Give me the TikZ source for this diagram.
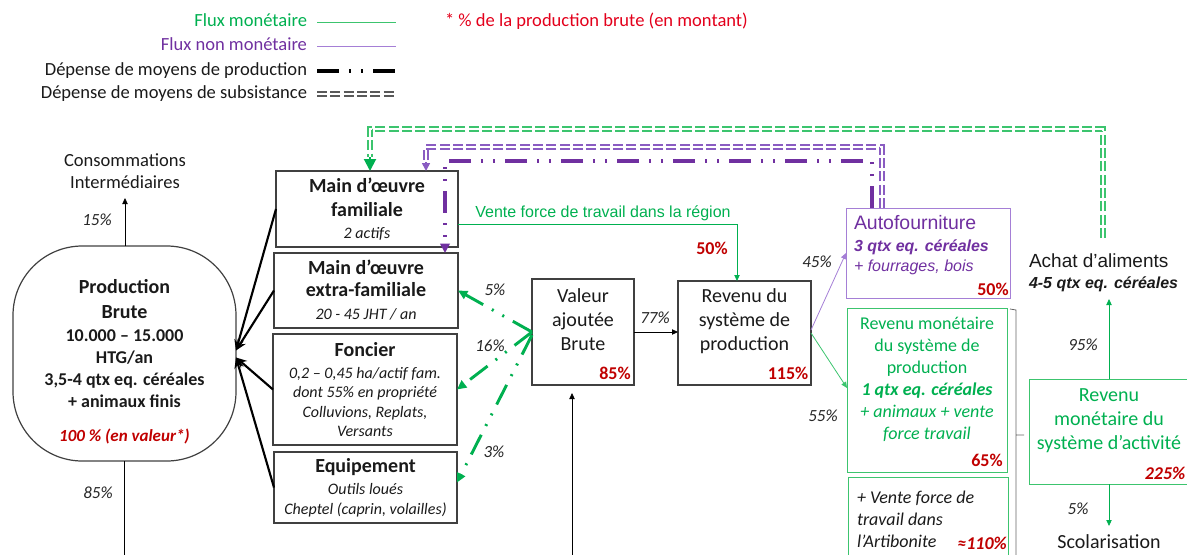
\documentclass[tikz,border=0pt]{standalone}
\usepackage{fontspec}
\setmainfont{Carlito}
\newfontfamily\arialf{Liberation Sans}
\usetikzlibrary{arrows.meta,calc}
\definecolor{gr}{HTML}{00B050}
\definecolor{lgr}{HTML}{3CC46E}
\definecolor{pu}{HTML}{7030A0}
\definecolor{mpu}{HTML}{8A5CC2}
\definecolor{lpu}{HTML}{A57FD6}
\definecolor{rd}{HTML}{C00000}
\definecolor{rdl}{HTML}{E3001B}
\definecolor{bx}{HTML}{404040}
\definecolor{tx}{HTML}{1A1A1A}
\newcommand\fA{\fontsize{15pt}{18pt}\selectfont}
\newcommand\fB{\fontsize{13.5pt}{16.5pt}\selectfont}
\newcommand\fC{\fontsize{12pt}{14.6pt}\selectfont}
\newcommand\fD{\fontsize{12.75pt}{15pt}\selectfont}
\newcommand\fL{\fontsize{13.9pt}{16.5pt}\selectfont}
\begin{document}
\begin{tikzpicture}[x=0.75pt,y=-0.75pt,
 every node/.style={inner sep=0pt,outer sep=0pt,text=tx},
 box/.style={draw=bx,line width=0.9pt,rectangle,align=center},
 cbox/.style={draw=#1,line width=0.75pt,rectangle},
 pct/.style={font=\fD\itshape,text=black!85},
 rpct/.style={font=\fB\bfseries,text=rd},
 tarr/.style={line width=0.6pt,-{Triangle[length=4.5pt,width=4pt]}},
 fat/.style={line width=1.6pt,-{Stealth[length=8pt,width=7pt]}},
 ddot/.style={line width=2.2pt,dash pattern=on 16.5pt off 7.5pt on 1.5pt off 7.5pt on 1.5pt off 7.5pt},
 dbl/.style={draw=#1,double=white,line width=1.1pt,double distance=1.6pt,dash pattern=on 7.5pt off 2.5pt},
 leg/.style={font=\fL,text height=10pt,text depth=3pt},
]
\useasboundingbox (0,0) rectangle (1187,554);

% ---------- legend ----------
\node[leg,anchor=east,text=gr] (l1) at (307,22) {Flux monétaire};
\node[leg,anchor=east,text=pu] (l2) at (307,46) {Flux non monétaire};
\node[leg,anchor=east] (l3) at (307,71) {Dépense de moyens de production};
\node[leg,anchor=east] (l4) at (307,94) {Dépense de moyens de subsistance};
\node[leg,anchor=west,text=rdl] (l5) at (445,22) {* \% de la production brute (en montant)};
\draw[lgr,line width=0.7pt] ([xshift=7.5pt]l1.east) -- ++(79,0);
\draw[lpu,line width=0.7pt] ([xshift=7.5pt]l2.east) -- ++(79,0);
\draw[black,ddot,line width=2.4pt] ([xshift=7.5pt]l3.east) -- ++(79,0);
\draw[dbl=black!65] ([xshift=7.5pt]l4.east) -- ++(79,0);

% ---------- boxes ----------
\node[draw=bx,line width=0.9pt,rounded corners=52pt,minimum width=167.25pt,minimum height=161.25pt] (prod) at (124.5,353.5) {};
\node[align=center,font=\fB\bfseries] (prodt) at (124.5,344) {{\fA Production}\\[2.25pt]{\fA Brute}\\[0.75pt]10.000 – 15.000\\HTG/an\\3,5-4 qtx eq. céréales\\+ animaux finis};
\node[font=\fD\bfseries\itshape,text=rd] (p100) at (124.5,436) {100 \% (en valeur*)};

\node[align=center,font=\fL] (conso) at (125,171) {Consommations\\Intermédiaires};

\node[box,minimum width=136.5pt,minimum height=57pt,font=\fA\bfseries] (mof) at (367,209)
  {Main d’œuvre\\familiale\\[-1.5pt]{\fC\mdseries\itshape 2 actifs}};
\node[box,minimum width=138pt,minimum height=56.25pt,font=\fA\bfseries] (moef) at (366,290.5)
  {Main d’œuvre\\[-1.5pt]extra-familiale\\[-0.75pt]{\fC\mdseries\itshape 20 - 45 JHT / an}};
\node[box,minimum width=138pt,minimum height=83.25pt,font=\fC\itshape] (fon) at (365,389.5)
  {{\fA\bfseries\upshape Foncier}\\[2pt]0,2 – 0,45 ha/actif fam.\\dont 55\% en propriété\\Colluvions, Replats,\\Versants};
\node[box,minimum width=137.25pt,minimum height=53.25pt,font=\fC\itshape] (equip) at (365.5,487.5)
  {{\fA\bfseries\upshape Equipement}\\[2.5pt]Outils loués\\Cheptel (caprin, volailles)};

\node[box,minimum width=76.5pt,minimum height=79.5pt] (val) at (583,332) {};
\node[align=center,font=\fA] (valt) at (583,319.5) {Valeur\\ajoutée\\Brute};
\node[rpct] (p85) at (615,373) {85\%};

\node[box,minimum width=99.75pt,minimum height=78pt] (revsp) at (744.5,333) {};
\node[align=center,font=\fA] (revt) at (744.5,321) {Revenu du\\système de\\production};
\node[rpct] (p115) at (788,373) {115\%};

\node[cbox=lpu,minimum width=123pt,minimum height=67.5pt] (auto) at (928,253) {};
\node[anchor=west,align=left,font=\arialf\fC,text=pu] (autot) at (854,245)
  {{\fontsize{14.6pt}{16.5pt}\selectfont Autofourniture}\\[1.9pt]{\bfseries\itshape 3 qtx eq. céréales}\\[0.4pt]{\itshape + fourrages, bois}};
\node[rpct] (p50b) at (993,289) {50\%};

\node[cbox=lgr,minimum width=120pt,minimum height=123pt] (rmsp) at (927,390) {};
\node[align=center,font=\fB,text=gr] (rmspt) at (927,379)
  {Revenu monétaire\\du système de\\production\\{\bfseries\itshape 1 qtx eq. céréales}\\{\itshape + animaux + vente}\\{\itshape force travail}};
\node[rpct] (p65) at (987,460) {65\%};

\node[cbox=lgr,minimum width=120pt,minimum height=73.5pt] (arti) at (928,526) {};
\node[anchor=west,align=left,font=\fB\itshape] (artit) at (857,519) {+ Vente force de\\travail dans\\l’Artibonite};
\node[rpct,font=\fB\bfseries\itshape] (p110) at (982,543) {≈110\%};

\node[cbox=lgr,minimum width=124.5pt,minimum height=78.75pt] (rmsa) at (1112,431.5) {};
\node[align=center,font=\fA,text=gr] (rmsat) at (1109,421) {Revenu\\monétaire du\\système d’activité};
\node[rpct,font=\fB\bfseries\itshape] (p225) at (1165,473) {225\%};

\node[anchor=west,align=left,font=\arialf\fontsize{12pt}{15.75pt}\selectfont] (achat) at (1029,273)
  {{\fontsize{14.25pt}{16pt}\selectfont Achat d’aliments}\\{\bfseries\itshape 4-5 qtx eq. céréales}};
\node[font=\fA] (scol) at (1109,542) {Scolarisation};

% ---------- connectors ----------
\draw[fat] (mof.west) -- ($(prod.east)+(0,-3)$);
\draw[fat] (moef.west) -- ($(prod.east)+(0,-3)$);
\draw[fat] (fon.west) -- ($(prod.east)+(0,4)$);
\draw[fat] (equip.west) -- ($(prod.east)+(0,4)$);

\coordinate (c15) at (125,198);
\draw[tarr] (prod.north -| c15) -- (c15);
\coordinate (c85) at (124.5,560);
\draw[line width=0.6pt] (prod.south) -- (c85);

\coordinate (vA) at (737,224);
\draw[gr,tarr] (mof.east |- vA) -- (vA) -- (revsp.north -| vA);
\node[font=\arialf\fC,text=gr] (vente) at (603,213) {Vente force de travail dans la région};
\node[rpct] (p50a) at (712,248) {50\%};

\draw[tarr] (val.east) -- (revsp.west |- val.east);
\coordinate (vb) at (572,560);
\draw[tarr,shorten >=6pt] (vb) -- (val.south -| vb);

\draw[gr,ddot,-{Triangle[length=7pt,width=6.5pt]}] (val.west) -- (moef.east);
\draw[gr,ddot,-{Triangle[length=7pt,width=6.5pt]}] (val.west) -- (fon.east);
\draw[gr,ddot,-{Triangle[length=7pt,width=6.5pt]}] ($(val.west)+(0,3)$) -- ($(equip.east)+(0,-5)$);

\draw[lpu,tarr] ($(revsp.east)+(0,-3)$) -- (auto.west);
\draw[lgr,tarr] (revsp.east) -- ($(rmsp.west)+(0,-2)$);

\coordinate (qA) at (872,161);
\coordinate (qB) at (445,161);
\draw[pu,ddot,line width=2.6pt,-{Triangle[length=7pt,width=7pt]}] (auto.north -| qA) -- (qA) -- (qB) -- (moef.north -| qB);

\coordinate (pA) at (882,147);
\coordinate (pB) at (426,147);
\draw[dbl=mpu] (auto.north -| pA) -- (pA) -- (pB) -- ($(mof.north -| pB)+(0,-9)$);
\draw[mpu,line width=1.2pt,-{Triangle[length=6pt,width=6pt]}] ($(mof.north -| pB)+(0,-9)$) -- (mof.north -| pB);

\coordinate (gS) at (1103,238);
\coordinate (gA) at (1103,129);
\coordinate (gB) at (370,129);
\draw[dbl=lgr] (gS) -- (gA) -- (gB) -- ($(mof.north -| gB)+(0,-14)$);
\draw[gr,line width=1.5pt,-{Triangle[length=9pt,width=9pt]}] ($(mof.north -| gB)+(0,-14)$) -- (mof.north -| gB);

\coordinate (a95) at (1109,299);
\draw[gr,tarr] (rmsa.north -| a95) -- (a95);
\coordinate (s5) at (1109,526);
\draw[gr,tarr] (rmsa.south -| a95) -- (s5);

\draw[black!60,line width=0.6pt] (1010,309) -- (1016,310) -- (1016,560) (1016,435) -- (1024,435);

% ---------- percent labels ----------
\node[pct] (t15) at (97,220) {15\%};
\node[pct] (t85) at (98,493) {85\%};
\node[pct] (t5a) at (495,290) {5\%};
\node[pct] (t16) at (490,346) {16\%};
\node[pct] (t3) at (494,452) {3\%};
\node[pct] (t77) at (655,318) {77\%};
\node[pct] (t45) at (817,262) {45\%};
\node[pct] (t55) at (823,416) {55\%};
\node[pct] (t95) at (1083,345) {95\%};
\node[pct] (t5b) at (1078,509) {5\%};
\end{tikzpicture}
\end{document}
